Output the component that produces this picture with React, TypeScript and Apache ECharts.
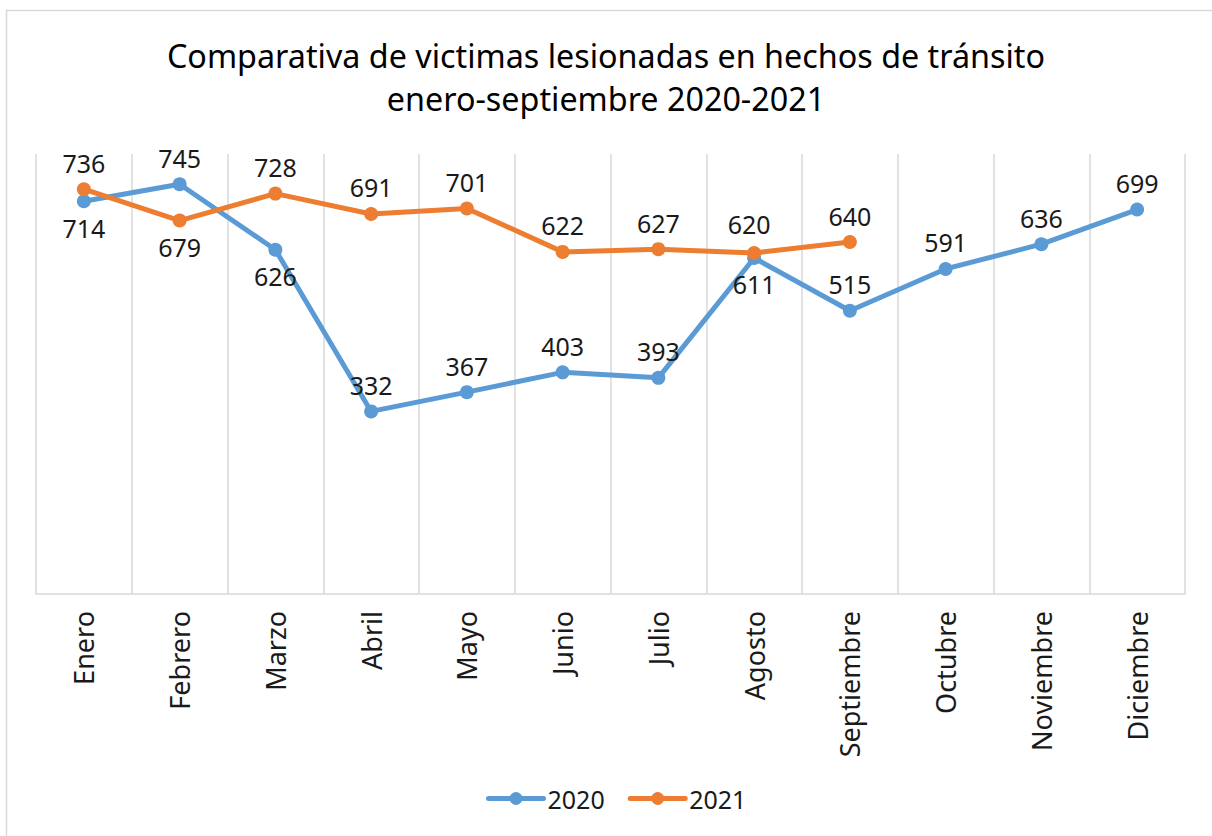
import React, { useEffect, useRef } from "react";
import * as echarts from "echarts";

const months = ["Enero", "Febrero", "Marzo", "Abril", "Mayo", "Junio", "Julio", "Agosto", "Septiembre", "Octubre", "Noviembre", "Diciembre"];
const values2020 = [714, 745, 626, 332, 367, 403, 393, 611, 515, 591, 636, 699];
const values2021 = [736, 679, 728, 691, 701, 622, 627, 620, 640];
const below2020 = [0, 2, 7];
const below2021 = [1];

const FONT = "Noto Sans";

export default function App() {
  const ref = useRef<HTMLDivElement>(null);
  useEffect(() => {
    const chart = echarts.init(ref.current!, null, { renderer: "svg" });
    const mk = (vals: number[], below: number[], shifted: number[] = []) =>
      vals.map((v, i) => {
        const item: any = { value: v };
        if (below.includes(i)) item.label = { position: "bottom" };
        if (shifted.includes(i)) item.label = { ...(item.label || {}), offset: [-5, -3] };
        return item;
      });
    const labelCfg = {
      show: true,
      position: "top",
      distance: 7,
      fontFamily: FONT,
      fontSize: 25,
      color: "#1a1a1a",
    };
    chart.setOption({
      animation: false,
      backgroundColor: "#ffffff",
      title: {
        text: "Comparativa de victimas lesionadas en hechos de tránsito\nenero-septiembre 2020-2021",
        left: "center",
        top: 28,
        textStyle: { fontFamily: FONT, fontSize: 32.3, fontWeight: "normal", color: "#000", lineHeight: 43 },
      },
      graphic: [
        {
          type: "rect",
          shape: { x: 6.5, y: 10.5, width: 1220, height: 840 },
          style: { fill: "none", stroke: "#d9d9d9", lineWidth: 1.5 },
          silent: true,
        },
      ],
      legend: {
        bottom: 20,
        left: 481,
        itemWidth: 55,
        itemHeight: 16,
        itemGap: 23,
        lineStyle: { width: 5, cap: "round" },
        textStyle: { fontFamily: FONT, fontSize: 25, color: "#1a1a1a", padding: [0, 0, 0, -1] },
        data: ["2020", "2021"],
      },
      grid: { left: 36, right: 27, top: 154, bottom: 242, containLabel: false },
      xAxis: {
        type: "category",
        data: months,
        boundaryGap: true,
        axisLine: { lineStyle: { color: "#d9d9d9", width: 1.5 } },
        axisTick: { show: false },
        splitLine: { show: true, lineStyle: { color: "#d9d9d9", width: 1.5 } },
        axisLabel: { rotate: 90, margin: 17, fontFamily: FONT, fontSize: 27, color: "#1a1a1a", interval: 0 },
      },
      yAxis: { type: "value", min: 0, max: 800, show: false, splitLine: { show: false } },
      series: [
        {
          name: "2020",
          type: "line",
          data: mk(values2020, below2020),
          symbol: "circle",
          symbolSize: 14,
          lineStyle: { width: 5, color: "#5b9bd5", cap: "round" },
          itemStyle: { color: "#5b9bd5" },
          label: labelCfg,
        },
        {
          name: "2021",
          type: "line",
          data: mk(values2021, below2021, [7]),
          symbol: "circle",
          symbolSize: 14,
          lineStyle: { width: 5, color: "#ed7d31", cap: "round" },
          itemStyle: { color: "#ed7d31" },
          label: labelCfg,
        },
      ],
    });
    return () => chart.dispose();
  }, []);
  return (
    <div style={{ position: "absolute", left: 0, top: 0, width: 1212, height: 836 }}>
      <div ref={ref} style={{ width: 1212, height: 836 }} />
    </div>
  );
}
